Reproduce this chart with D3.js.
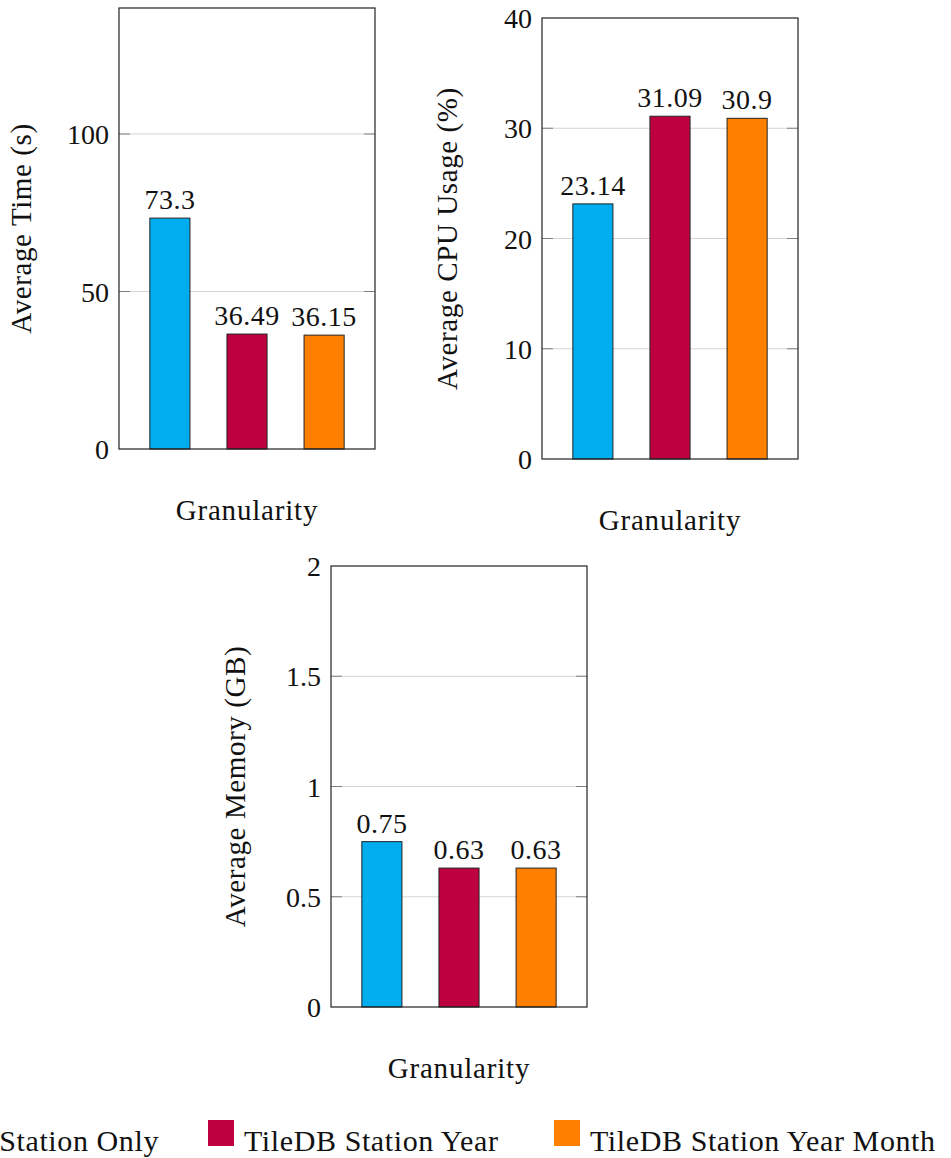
<!DOCTYPE html>
<html>
<head>
<meta charset="utf-8">
<script src="https://cdn.jsdelivr.net/npm/d3@7"></script>
<style>
  body { margin: 0; background: #fff; }
  svg { display: block; }
  text { font-family: "Liberation Serif", "DejaVu Serif", serif; fill: #111; }
</style>
</head>
<body>
<script>
// data
var series = ["TileDB Station Only", "TileDB Station Year", "TileDB Station Year Month"];
var colors = ["#00adef", "#bf0040", "#ff8000"];

var timeValues = [73.3, 36.49, 36.15];
var cpuValues = [23.14, 31.09, 30.9];
var memValues = [0.75, 0.63, 0.63];

var timeLabels = ["73.3", "36.49", "36.15"];
var cpuLabels = ["23.14", "31.09", "30.9"];
var memLabels = ["0.75", "0.63", "0.63"];

var timeTicks = [0, 50, 100];
var cpuTicks = [0, 10, 20, 30, 40];
var memTicks = [0, 0.5, 1, 1.5, 2];

var width = 951, height = 1158;

var svg = d3.select("body")
  .append("svg")
  .attr("width", width)
  .attr("height", height);

var panels = [
  { x: 119, y: 8,   max: 140, values: timeValues, labels: timeLabels, ticks: timeTicks, title: "Average Time (s)",    titleX: 22 },
  { x: 542, y: 18,  max: 40,  values: cpuValues,  labels: cpuLabels,  ticks: cpuTicks,  title: "Average CPU Usage (%)", titleX: 448 },
  { x: 331, y: 566, max: 2,   values: memValues,  labels: memLabels,  ticks: memTicks,  title: "Average Memory (GB)", titleX: 236 }
];

var pw = 256, ph = 441;

panels.forEach(function (p) {
  var g = svg.append("g").attr("transform", "translate(" + p.x + "," + p.y + ")");

  var x = d3.scaleBand()
    .domain(series)
    .range([0, pw])
    .paddingInner(0.48)
    .paddingOuter(0.4);

  var y = d3.scaleLinear()
    .domain([0, p.max])
    .range([ph, 0]);

  var inner = p.ticks.filter(function (t) { return t > 0 && t < p.max; });

  // grid
  g.append("g")
    .selectAll("line")
    .data(inner)
    .enter().append("line")
    .attr("x1", 0).attr("x2", pw)
    .attr("y1", function (d) { return y(d); })
    .attr("y2", function (d) { return y(d); })
    .style("stroke", "#d4d4d4")
    .style("stroke-width", 1);

  // inner ticks left/right
  var tk = g.append("g").selectAll("g")
    .data(inner)
    .enter().append("g");
  tk.append("line")
    .attr("x1", 0).attr("x2", 11)
    .attr("y1", function (d) { return y(d); })
    .attr("y2", function (d) { return y(d); })
    .style("stroke", "#808080");
  tk.append("line")
    .attr("x1", pw - 11).attr("x2", pw)
    .attr("y1", function (d) { return y(d); })
    .attr("y2", function (d) { return y(d); })
    .style("stroke", "#808080");

  // y axis labels
  var axis = d3.axisLeft(y)
    .tickValues(p.ticks)
    .tickSize(0)
    .tickPadding(10)
    .tickFormat(function (d) { return String(d); });
  var ax = g.append("g").call(axis);
  ax.select(".domain").remove();
  ax.selectAll("text")
    .style("font-family", "Liberation Serif, serif")
    .style("font-size", "28px")
    .attr("dy", "0.34em")
    .style("fill", "#111");

  // bars
  g.append("g")
    .selectAll("rect")
    .data(p.values)
    .enter().append("rect")
    .attr("x", function (d, i) { return x(series[i]); })
    .attr("y", function (d) { return y(d); })
    .attr("width", x.bandwidth())
    .attr("height", function (d) { return ph - y(d); })
    .style("fill", function (d, i) { return colors[i]; })
    .style("stroke", "#222")
    .style("stroke-width", 1);

  // value labels
  g.append("g")
    .selectAll("text")
    .data(p.values)
    .enter().append("text")
    .attr("x", function (d, i) { return x(series[i]) + x.bandwidth() / 2; })
    .attr("y", function (d) { return y(d) - 9; })
    .attr("text-anchor", "middle")
    .style("font-size", "28px")
    .style("letter-spacing", "0.5px")
    .text(function (d, i) { return p.labels[i]; });

  // frame
  g.append("rect")
    .attr("width", pw).attr("height", ph)
    .style("fill", "none")
    .style("stroke", "#222")
    .style("stroke-width", 1.2);

  // axis titles
  g.append("text")
    .attr("x", pw / 2)
    .attr("y", ph + 71)
    .attr("text-anchor", "middle")
    .style("font-size", "29px")
    .style("letter-spacing", "0.8px")
    .text("Granularity");

  svg.append("text")
    .attr("transform", "translate(" + (p.titleX + 9) + "," + (p.y + ph / 2) + ") rotate(-90)")
    .attr("text-anchor", "middle")
    .style("font-size", "29px")
    .style("letter-spacing", "0.6px")
    .text(p.title);
});

// legend: swatches at the reference spots; first entry runs off the left edge
var legendX = [0, 208, 554];
var legend = svg.append("g").attr("class", "legend");
var items = legend.selectAll("g")
  .data(series)
  .enter().append("g");

items.append("rect")
  .attr("width", 26).attr("height", 26)
  .attr("y", 1120)
  .style("fill", function (d, i) { return colors[i]; });

items.append("text")
  .attr("x", 36)
  .attr("y", 1151)
  .style("font-size", "30px")
  .style("letter-spacing", "0.6px")
  .text(function (d) { return d; });

var w0 = 36 + items.filter(function (d, i) { return i === 0; }).select("text").node().getComputedTextLength();
legendX[0] = 157 - w0 + 2;
items.attr("transform", function (d, i) { return "translate(" + legendX[i] + ",0)"; });
</script>
</body>
</html>
